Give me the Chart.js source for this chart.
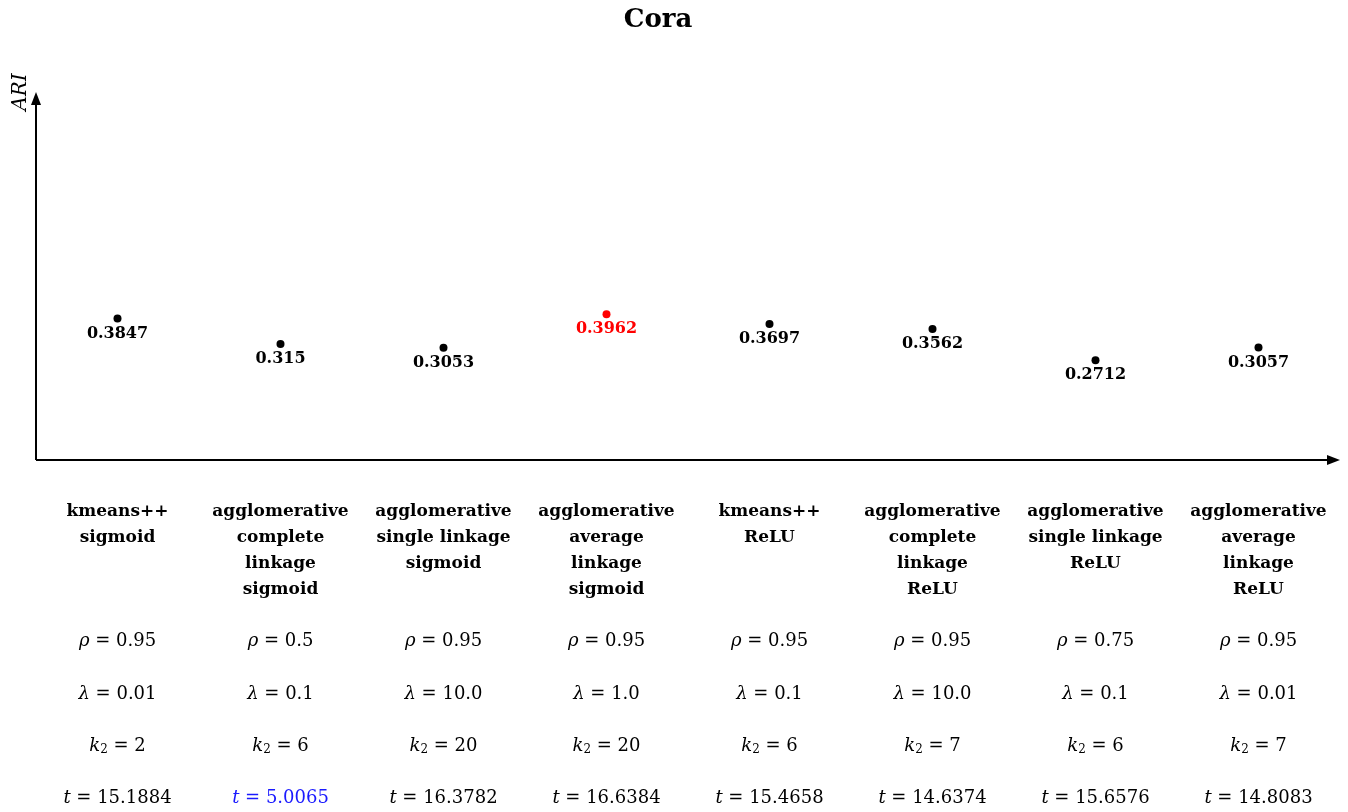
<!DOCTYPE html>
<html>
<head>
<meta charset="utf-8">
<script src="https://cdn.jsdelivr.net/npm/chart.js@4"></script>
<style>
  body { margin: 0; background: #fff; }
  #wrap { width: 1348px; height: 812px; }
</style>
</head>
<body>
<div id="wrap"><canvas id="chart" width="1348" height="812"></canvas></div>
<script>
const TITLE = 'Cora';
const methods = [
    ['kmeans++', 'sigmoid'],
    ['agglomerative', 'complete', 'linkage', 'sigmoid'],
    ['agglomerative', 'single linkage', 'sigmoid'],
    ['agglomerative', 'average', 'linkage', 'sigmoid'],
    ['kmeans++', 'ReLU'],
    ['agglomerative', 'complete', 'linkage', 'ReLU'],
    ['agglomerative', 'single linkage', 'ReLU'],
    ['agglomerative', 'average', 'linkage', 'ReLU']
];
const ari = [0.3847, 0.315, 0.3053, 0.3962, 0.3697, 0.3562, 0.2712, 0.3057];
const rho = ['0.95', '0.5', '0.95', '0.95', '0.95', '0.95', '0.75', '0.95'];
const lambda = ['0.01', '0.1', '10.0', '1.0', '0.1', '10.0', '0.1', '0.01'];
const k2 = ['2', '6', '20', '20', '6', '7', '6', '7'];
const times = ['15.1884', '5.0065', '16.3782', '16.6384', '15.4658', '14.6374', '15.6576', '14.8083'];

const SERIF = '"DejaVu Serif", "Liberation Serif", serif';
const bestIdx = ari.indexOf(Math.max(...ari));
const fastIdx = times.map(Number).indexOf(Math.min(...times.map(Number)));
const pointColors = ari.map((v, i) => i === bestIdx ? '#ff0000' : '#000000');

// draw a row of text pieces centred on x: [text, font, dy]
function drawPieces(ctx, pieces, x, y, color) {
    let total = 0;
    pieces.forEach(p => { ctx.font = p[1]; total += ctx.measureText(p[0]).width; });
    let cx = x - total / 2;
    ctx.fillStyle = color;
    ctx.textAlign = 'left';
    ctx.textBaseline = 'middle';
    pieces.forEach(p => {
        ctx.font = p[1];
        ctx.fillText(p[0], cx, y + (p[2] || 0));
        cx += ctx.measureText(p[0]).width;
    });
}

function arrow(ctx, x, y, dir) {
    ctx.beginPath();
    if (dir === 'up') {
        ctx.moveTo(x, y); ctx.lineTo(x - 5, y + 13); ctx.lineTo(x + 5, y + 13);
    } else {
        ctx.moveTo(x, y); ctx.lineTo(x - 13, y - 5); ctx.lineTo(x - 13, y + 5);
    }
    ctx.closePath();
    ctx.fill();
}

const annotate = {
    id: 'annotate',
    afterDatasetsDraw(chart) {
        const ctx = chart.ctx;
        const area = chart.chartArea;
        const xs = chart.scales.x, ys = chart.scales.y;
        ctx.save();

        // axes with arrow heads
        ctx.strokeStyle = '#000';
        ctx.fillStyle = '#000';
        ctx.lineWidth = 2;
        ctx.beginPath();
        ctx.moveTo(area.left, area.bottom);
        ctx.lineTo(area.left, area.top + 8);
        ctx.moveTo(area.left, area.bottom);
        ctx.lineTo(area.right - 8, area.bottom);
        ctx.stroke();
        arrow(ctx, area.left, area.top, 'up');
        arrow(ctx, area.right, area.bottom, 'right');

        // axis name
        ctx.save();
        ctx.translate(21, area.top);
        ctx.rotate(-Math.PI / 2);
        ctx.font = 'italic 20px ' + SERIF;
        ctx.textAlign = 'center';
        ctx.textBaseline = 'middle';
        ctx.fillText('ARI', 0, 0);
        ctx.restore();

        // title
        ctx.font = 'bold 26px ' + SERIF;
        ctx.textAlign = 'center';
        ctx.textBaseline = 'middle';
        ctx.fillText(TITLE, 658, 20);

        const reg = '18px ' + SERIF;
        const ita = 'italic 18px ' + SERIF;
        const subUp = '12px ' + SERIF;

        ari.forEach((v, i) => {
            const px = xs.getPixelForValue(i);
            const py = ys.getPixelForValue(v);
            const col = i === bestIdx ? '#ff0000' : '#000000';

            // value under each point
            ctx.font = 'bold 16px ' + SERIF;
            ctx.textAlign = 'center';
            ctx.textBaseline = 'middle';
            ctx.fillStyle = col;
            ctx.fillText(String(v), px, py + 15);

            // method name
            ctx.fillStyle = '#000';
            methods[i].forEach((line, j) => {
                ctx.font = 'bold 17px ' + SERIF;
                ctx.textAlign = 'center';
                ctx.fillText(line, px, 512 + j * 26);
            });

            // hyper-parameters
            drawPieces(ctx, [['ρ', ita], [' = ' + rho[i], reg]], px, 641, '#000');
            drawPieces(ctx, [['λ', ita], [' = ' + lambda[i], reg]], px, 694, '#000');
            drawPieces(ctx, [['k', ita], ['2', subUp, 4], [' = ' + k2[i], reg]], px, 746, '#000');
            drawPieces(ctx, [['t', ita], [' = ' + times[i], reg]], px, 798, i === fastIdx ? '#1a1aff' : '#000');
        });
        ctx.restore();
    }
};

new Chart(document.getElementById('chart'), {
    type: 'scatter',
    data: {
        datasets: [{
            data: ari.map((v, i) => ({ x: i, y: v })),
            pointRadius: 4,
            pointHoverRadius: 4,
            pointBackgroundColor: pointColors,
            pointBorderColor: pointColors,
            pointBorderWidth: 0
        }]
    },
    options: {
        responsive: false,
        animation: false,
        devicePixelRatio: 1,
        layout: { padding: { left: 36, right: 8, top: 92, bottom: 352 } },
        plugins: { legend: { display: false }, tooltip: { enabled: false } },
        scales: {
            x: { type: 'linear', min: -0.5, max: 7.5, display: false },
            y: { min: 0, max: 1, display: false }
        }
    },
    plugins: [annotate]
});
</script>
</body>
</html>
